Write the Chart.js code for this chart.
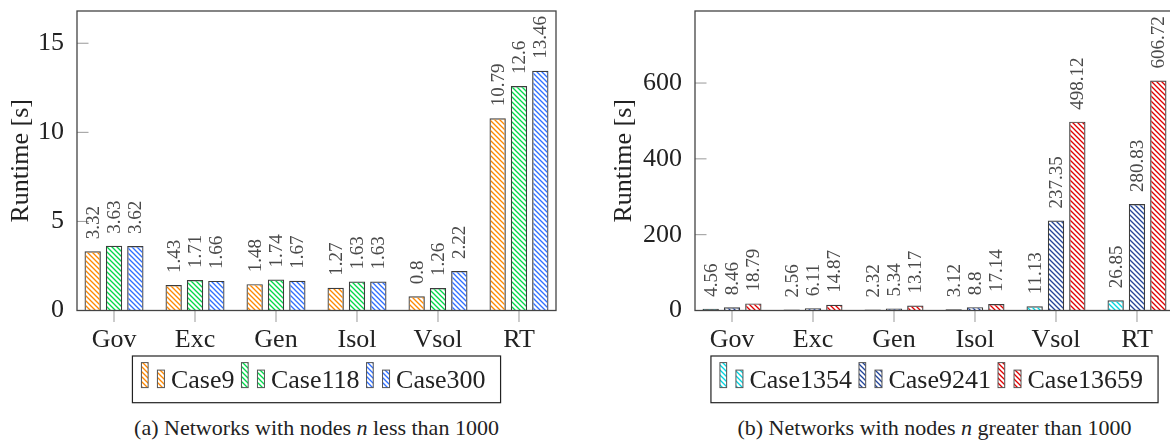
<!DOCTYPE html>
<html>
<head>
<meta charset="utf-8">
<script src="https://cdn.jsdelivr.net/npm/chart.js@4.4.1/dist/chart.umd.min.js"></script>
<style>
  html, body { margin: 0; padding: 0; width: 1170px; height: 447px; overflow: hidden; background: #fff; }
  canvas { position: absolute; top: 0; display: block; }
  .cap {
    position: absolute; top: 416.6px; transform: translateX(-50%);
    font-family: "Liberation Serif", serif; font-size: 22px; line-height: 22px;
    color: #222; white-space: nowrap;
  }
</style>
</head>
<body>
<canvas id="small" width="585" height="410" style="left:0px"></canvas>
<canvas id="large" width="595" height="410" style="left:585px"></canvas>
<div class="cap" id="capA">(a) Networks with nodes <i>n</i> less than 1000</div>
<div class="cap" id="capB">(b) Networks with nodes <i>n</i> greater than 1000</div>
<script>
// ---- data ----
const categories = ['Gov', 'Exc', 'Gen', 'Isol', 'Vsol', 'RT'];

const smallCaseNames = ['Case9', 'Case118', 'Case300'];
const case9   = [3.32, 1.43, 1.48, 1.27, 0.8, 10.79];
const case118 = [3.63, 1.71, 1.74, 1.63, 1.26, 12.6];
const case300 = [3.62, 1.66, 1.67, 1.63, 2.22, 13.46];
const smallYTicks = [0, 5, 10, 15];

const largeCaseNames = ['Case1354', 'Case9241', 'Case13659'];
const case1354  = [4.56, 2.56, 2.32, 3.12, 11.13, 26.85];
const case9241  = [8.46, 6.11, 5.34, 8.8, 237.35, 280.83];
const case13659 = [18.79, 14.87, 13.17, 17.14, 498.12, 606.72];
const largeYTicks = [0, 200, 400, 600];

// ---- styling ----
const smallColors = ['#ff8800', '#00d84a', '#2f6fff'];
const largeColors = ['#00d4e0', '#22449a', '#e00000'];
const FONT = '"Liberation Serif", serif';
Chart.defaults.font.family = FONT;

// diagonal "\" hatch used as bar fill
function makeHatch(color) {
  const s = 5;
  const c = document.createElement('canvas');
  c.width = s; c.height = s;
  const g = c.getContext('2d');
  g.strokeStyle = color;
  g.lineWidth = 1.3;
  g.beginPath();
  g.moveTo(-1, -1); g.lineTo(s + 1, s + 1);
  g.moveTo(-1, s - 1); g.lineTo(1, s + 1);
  g.moveTo(s - 1, -1); g.lineTo(s + 1, 1);
  g.stroke();
  return g.createPattern(c, 'repeat');
}

// axis box plus tick marks (y ticks inward, x ticks outward)
const framePlugin = {
  id: 'frame',
  afterDatasetsDraw(chart) {
    const { ctx, chartArea: a, scales } = chart;
    ctx.save();
    ctx.strokeStyle = '#999';
    ctx.lineWidth = 1;
    scales.y.ticks.forEach(t => {
      const y = scales.y.getPixelForValue(t.value);
      ctx.beginPath(); ctx.moveTo(a.left, y); ctx.lineTo(a.left + 11.5, y); ctx.stroke();
    });
    scales.x.ticks.forEach(t => {
      const x = scales.x.getPixelForValue(t.value);
      ctx.beginPath(); ctx.moveTo(x, a.bottom); ctx.lineTo(x, a.bottom + 11.5); ctx.stroke();
    });
    ctx.strokeStyle = '#444';
    ctx.lineWidth = 1.3;
    ctx.strokeRect(a.left, a.top, a.right - a.left, a.bottom - a.top);
    ctx.restore();
  }
};

// rotated value labels above each bar
const valueLabelPlugin = {
  id: 'valueLabels',
  afterDatasetsDraw(chart) {
    const ctx = chart.ctx;
    ctx.save();
    ctx.font = '19px ' + FONT;
    ctx.fillStyle = '#4a4a4a';
    ctx.textAlign = 'left';
    ctx.textBaseline = 'middle';
    chart.data.datasets.forEach((ds, k) => {
      chart.getDatasetMeta(k).data.forEach((bar, i) => {
        ctx.save();
        ctx.translate(bar.x, bar.y - 12);
        ctx.rotate(-Math.PI / 2);
        ctx.fillText(String(ds.data[i].y), 0, 1);
        ctx.restore();
      });
    });
    ctx.restore();
  }
};

// boxed legend with pgf-style double bar swatches
const legendPlugin = {
  id: 'hatchLegend',
  afterDraw(chart) {
    const { ctx, chartArea: a } = chart;
    ctx.save();
    ctx.font = '26px ' + FONT;
    const items = chart.data.datasets.map(ds => ({
      label: ds.label, fill: ds.backgroundColor, w: ctx.measureText(ds.label).width
    }));
    const padL = 9, padR = 15, sw = 29.5, gap = 7;
    const total = padL + padR + items.reduce((s, it) => s + sw + it.w, 0) + gap * (items.length - 1);
    const top = 356, bottom = 402.7, base = 387.6;
    const x0 = (a.left + a.right) / 2 - total / 2;
    ctx.strokeStyle = '#222';
    ctx.lineWidth = 1.2;
    ctx.strokeRect(x0, top, total, bottom - top);
    let x = x0 + padL;
    items.forEach(it => {
      ctx.fillStyle = it.fill;
      ctx.strokeStyle = '#555';
      ctx.lineWidth = 1;
      ctx.fillRect(x, base - 25, 6.7, 25);
      ctx.strokeRect(x, base - 25, 6.7, 25);
      ctx.fillRect(x + 16, base - 17.5, 7, 17.5);
      ctx.strokeRect(x + 16, base - 17.5, 7, 17.5);
      ctx.fillStyle = '#222';
      ctx.textAlign = 'left';
      ctx.textBaseline = 'alphabetic';
      ctx.fillText(it.label, x + sw, base);
      x += sw + it.w + gap;
    });
    ctx.restore();
  }
};

function buildChart(id, names, series, colors, yMax, yTicks, cfg) {
  const H = 410;
  return new Chart(document.getElementById(id), {
    type: 'bar',
    data: {
      datasets: names.map((n, k) => ({
        label: n,
        data: categories.map((c, i) => ({ x: i, y: series[k][i] })),
        backgroundColor: makeHatch(colors[k]),
        borderColor: '#3c3c3c',
        borderWidth: 1.2,
        categoryPercentage: 0.79,
        barPercentage: 0.765
      }))
    },
    options: {
      responsive: false,
      animation: false,
      devicePixelRatio: 1,
      layout: { padding: { left: 0, top: 11, right: cfg.padRight, bottom: 0 } },
      plugins: { legend: { display: false }, tooltip: { enabled: false } },
      scales: {
        x: {
          type: 'linear',
          offset: false,
          min: -0.457,
          max: 5.457,
          grid: { display: false, drawTicks: false, offset: false },
          border: { display: false },
          afterBuildTicks: s => { s.ticks = categories.map((c, i) => ({ value: i })); },
          ticks: {
            callback: v => categories[v],
            font: { size: 26 },
            color: '#222',
            padding: 14,
            maxRotation: 0,
            autoSkip: false
          },
          afterFit: s => {
            s.height = H - 310.5;
            s.paddingLeft = 0; s.paddingRight = 0;
          }
        },
        y: {
          min: 0,
          max: yMax,
          grid: { display: false, drawTicks: false },
          border: { display: false },
          afterBuildTicks: s => { s.ticks = yTicks.map(v => ({ value: v })); },
          ticks: { font: { size: 26 }, color: '#222', padding: 13 },
          title: {
            display: true,
            text: 'Runtime [s]',
            font: { size: 26 },
            color: '#222',
            padding: { top: cfg.titlePad, bottom: 0 }
          },
          afterFit: s => {
            s.width = cfg.left;
            s.paddingTop = 0; s.paddingBottom = 0;
          }
        }
      }
    },
    plugins: [framePlugin, valueLabelPlugin, legendPlugin]
  });
}

const chartA = buildChart('small', smallCaseNames, [case9, case118, case300], smallColors, 16.81, smallYTicks,
  { left: 77, padRight: 29, titlePad: 6 });
const chartB = buildChart('large', largeCaseNames, [case1354, case9241, case13659], largeColors, 790, largeYTicks,
  { left: 110, padRight: 6, titlePad: 23.5 });

// captions centred under each plot area
function centreCaption(el, chart, offset) {
  const a = chart.chartArea;
  el.style.left = (offset + (a.left + a.right) / 2) + 'px';
}
centreCaption(document.getElementById('capA'), chartA, 0);
centreCaption(document.getElementById('capB'), chartB, 585);
</script>
</body>
</html>
